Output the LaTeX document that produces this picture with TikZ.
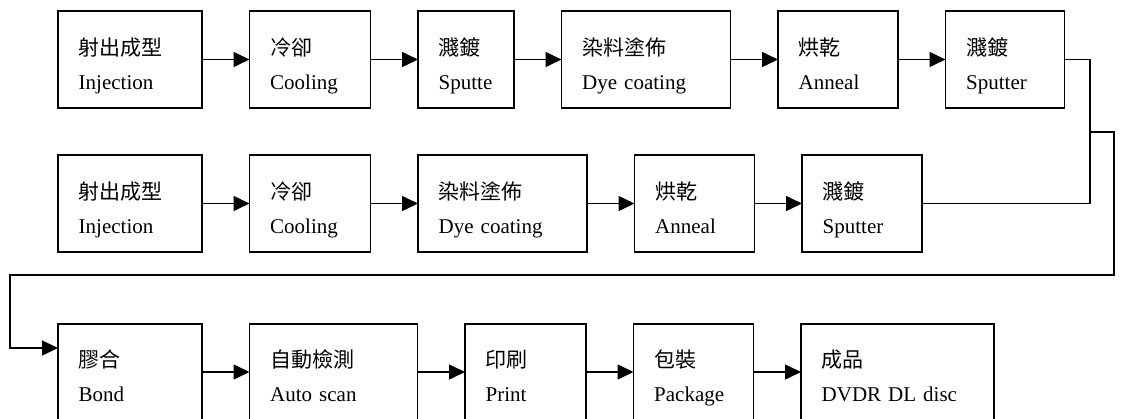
\documentclass[tikz,border=0pt]{standalone}
\usepackage{fontspec}
\setmainfont{Liberation Serif}
\newfontfamily\cjk{Noto Sans CJK TC}
\usetikzlibrary{positioning,arrows.meta}

\begin{document}
\begin{tikzpicture}[x=1pt,y=-1pt,node distance=47.5pt,
		stepbox/.style={draw, line width=1.6pt, outer sep=0pt, minimum height=96.5pt},
		steptext/.style={anchor=base west, inner sep=0pt, text width=200pt, align=left,
			font=\fontsize{21}{34}\selectfont},
		link/.style={line width=1.5pt},
		flow/.style={link, -{Triangle[length=16pt,width=15pt]}}]
	\useasboundingbox (0,0) rectangle (1122,418);
	% first layer
	\node[stepbox, minimum width=144pt] (inj1) at (130,59.5) {};
	\node[stepbox, minimum width=121pt, right=of inj1] (cool1) {};
	\node[stepbox, minimum width=96pt, right=of cool1] (sput1) {};
	\node[stepbox, minimum width=169pt, right=of sput1] (dye1) {};
	\node[stepbox, minimum width=120pt, right=of dye1] (ann1) {};
	\node[stepbox, minimum width=119pt, right=of ann1] (spt1) {};
	% second layer
	\node[stepbox, minimum width=144pt, below=of inj1] (inj2) {};
	\node[stepbox, minimum width=121pt, right=of inj2] (cool2) {};
	\node[stepbox, minimum width=169pt, right=of cool2] (dye2) {};
	\node[stepbox, minimum width=120pt, right=of dye2] (ann2) {};
	\node[stepbox, minimum width=120pt, right=of ann2] (spt2) {};
	% bonding and finishing
	\node[stepbox, minimum width=144pt, below=72pt of inj2] (bond) {};
	\node[stepbox, minimum width=168pt, right=of bond] (scan) {};
	\node[stepbox, minimum width=121pt, right=of scan] (print) {};
	\node[stepbox, minimum width=120pt, right=of print] (pack) {};
	\node[stepbox, minimum width=193pt, right=of pack] (disc) {};

	\node[steptext] (inj1t) at ([shift={(20.5,44)}]inj1.north west) {{\cjk 射出成型}\\Injection};
	\node[steptext] (cool1t) at ([shift={(20.5,44)}]cool1.north west) {{\cjk 冷卻}\\Cooling};
	\node[steptext] (sput1t) at ([shift={(20.5,44)}]sput1.north west) {{\cjk 濺鍍}\\Sputte};
	\node[steptext] (dye1t) at ([shift={(20.5,44)}]dye1.north west) {{\cjk 染料塗佈}\\Dye coating};
	\node[steptext] (ann1t) at ([shift={(20.5,44)}]ann1.north west) {{\cjk 烘乾}\\Anneal};
	\node[steptext] (spt1t) at ([shift={(20.5,44)}]spt1.north west) {{\cjk 濺鍍}\\Sputter};
	\node[steptext] (inj2t) at ([shift={(20.5,44)}]inj2.north west) {{\cjk 射出成型}\\Injection};
	\node[steptext] (cool2t) at ([shift={(20.5,44)}]cool2.north west) {{\cjk 冷卻}\\Cooling};
	\node[steptext] (dye2t) at ([shift={(20.5,44)}]dye2.north west) {{\cjk 染料塗佈}\\Dye coating};
	\node[steptext] (ann2t) at ([shift={(20.5,44)}]ann2.north west) {{\cjk 烘乾}\\Anneal};
	\node[steptext] (spt2t) at ([shift={(20.5,44)}]spt2.north west) {{\cjk 濺鍍}\\Sputter};
	\node[steptext] (bondt) at ([shift={(20.5,44)}]bond.north west) {{\cjk 膠合}\\Bond};
	\node[steptext] (scant) at ([shift={(20.5,44)}]scan.north west) {{\cjk 自動檢測}\\Auto scan};
	\node[steptext] (printt) at ([shift={(20.5,44)}]print.north west) {{\cjk 印刷}\\Print};
	\node[steptext] (packt) at ([shift={(20.5,44)}]pack.north west) {{\cjk 包裝}\\Package};
	\node[steptext] (disct) at ([shift={(20.5,44)}]disc.north west) {{\cjk 成品}\\DVDR DL disc};

	\draw[flow] (inj1) -- (cool1);
	\draw[flow] (cool1) -- (sput1);
	\draw[flow] (sput1) -- (dye1);
	\draw[flow] (dye1) -- (ann1);
	\draw[flow] (ann1) -- (spt1);
	\draw[flow] (inj2) -- (cool2);
	\draw[flow] (cool2) -- (dye2);
	\draw[flow] (dye2) -- (ann2);
	\draw[flow] (ann2) -- (spt2);
	\draw[flow] (bond) -- (scan);
	\draw[flow] (scan) -- (print);
	\draw[flow] (print) -- (pack);
	\draw[flow] (pack) -- (disc);

	% both layers meet, then go round to bonding
	\coordinate (merge) at (1090,132);
	\coordinate (rturn) at (1114,275);
	\coordinate (lturn) at (10,275);
	\draw[link] (spt2.east) -| (merge);
	\draw[flow] (spt1.east) -| (merge) -| (rturn) -- (lturn) |- ([yshift=24pt]bond.west);
\end{tikzpicture}
\end{document}
